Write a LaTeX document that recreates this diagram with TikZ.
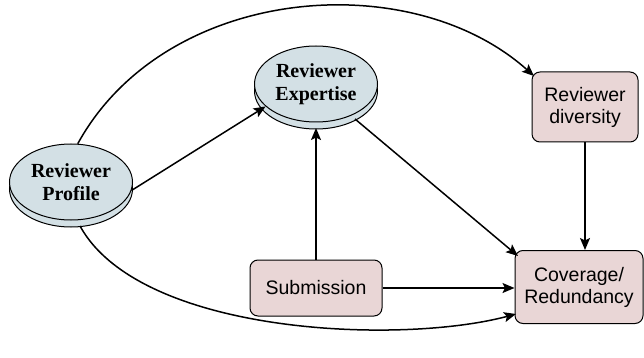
\documentclass[tikz,border=0pt]{standalone}
\usepackage{fontspec}
\setmainfont{Liberation Serif}
\newfontfamily\sansf{Liberation Sans}
\usetikzlibrary{shapes.geometric,shadows,arrows.meta}
\definecolor{diskfill}{RGB}{211,224,229}
\definecolor{boxfill}{RGB}{233,214,214}
\begin{document}
\begin{tikzpicture}[x=1pt,y=-1pt,
  disk/.style={ellipse, draw=black, fill=diskfill, line width=1pt,
    minimum width=123pt, minimum height=76pt, inner sep=0pt, align=center,
    font=\fontsize{20}{22.5}\selectfont\bfseries,
    copy shadow={shadow xshift=0pt, shadow yshift=-7pt, fill=diskfill, draw=black, line width=1pt}},
  box/.style={rectangle, rounded corners=8pt, draw=black, fill=boxfill, line width=1pt,
    inner sep=0pt, align=center, font=\sansf\fontsize{19.5}{22}\selectfont},
  conn/.style={line width=1.5pt, -{Stealth[length=12pt,width=10pt,inset=2.5pt]}}
]
\useasboundingbox (0,0) rectangle (644,358);
\node[disk] (prof) at (71,182) {Reviewer\\Profile};
\node[disk] (exp) at (316,84) {Reviewer\\Expertise};
\node[box, minimum width=106pt, minimum height=70pt] (div) at (585,107) {Reviewer\\diversity};
\node[box, minimum width=128pt, minimum height=73pt] (cov) at (579,287) {Coverage/\\Redundancy};
\node[box, minimum width=132pt, minimum height=56pt] (sub) at (316,288) {Submission};
\coordinate (expbot) at (316,128);
\coordinate (expse) at (355,119);
\coordinate (c1) at (165,-15);
\coordinate (c2) at (410,-35);
\coordinate (c3) at (140,335);
\coordinate (c4) at (400,345);
\coordinate (profbot) at (80,226);
\coordinate (covnw) at (518,256);
\coordinate (covsw) at (516,314);
\coordinate (divnw) at (534,76);
\draw[conn] (prof.-8) -- (exp.204);
\draw[conn] (expse) -- (covnw);
\draw[conn] (sub.north) -- (expbot);
\draw[conn] (sub.east) -- (sub.east -| cov.west);
\draw[conn] (div.south) -- (div.south |- cov.north);
\draw[conn] (prof.80) .. controls (c1) and (c2) .. (divnw);
\draw[conn] (profbot) .. controls (c3) and (c4) .. (covsw);
\end{tikzpicture}
\end{document}
